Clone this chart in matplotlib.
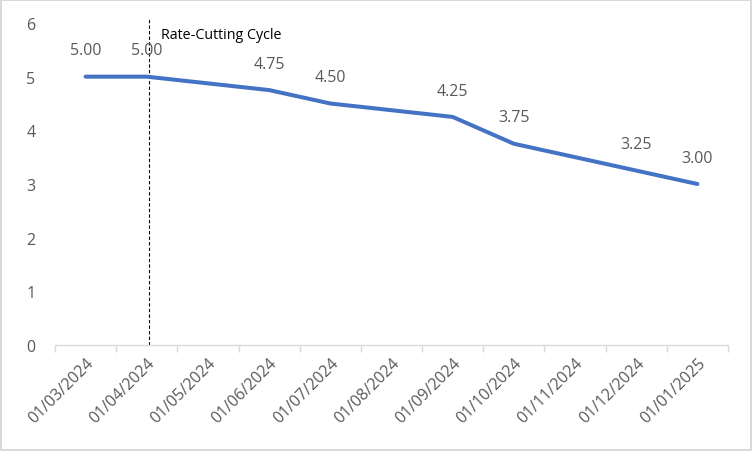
import matplotlib
matplotlib.use("Agg")
from matplotlib import pyplot as plt, ticker
import pandas as pd

# Data
dates = ["01/03/2024", "01/04/2024", "01/06/2024", "01/07/2024",
         "01/09/2024", "01/10/2024", "01/12/2024", "01/01/2025"]
rates = [5.00, 5.00, 4.75, 4.50, 4.25, 3.75, 3.25, 3.00]
month_labels = ["01/03/2024", "01/04/2024", "01/05/2024", "01/06/2024",
                "01/07/2024", "01/08/2024", "01/09/2024", "01/10/2024",
                "01/11/2024", "01/12/2024", "01/01/2025"]
cycle_start = "01/04/2024"
cycle_text = "Rate-Cutting Cycle"

plt.rcParams['font.family'] = ['Open Sans', 'DejaVu Sans']


def month_index(s):
    d = pd.to_datetime(s, format="%d/%m/%Y")
    return (d.year - 2024) * 12 + d.month - 3


xs = [month_index(d) for d in dates]

fig = plt.figure(figsize=(7.52, 4.52), dpi=100, facecolor="white",
                 edgecolor="#d9d9d9", linewidth=1.5)
ax = fig.add_axes([55 / 752, 1 - 346 / 452, (728 - 55) / 752, (346 - 24) / 452])

ax.plot(xs, rates, color="#4472C4", linewidth=2.9, solid_capstyle="round",
        solid_joinstyle="round", zorder=3)

# Data labels
for x, v in zip(xs, rates):
    ax.annotate(f"{v:.2f}", (x, v), xytext=(0, 19), textcoords="offset points",
                ha="center", va="center", fontsize=11.5, color="#595959")

# Dashed cycle marker
cx = month_index(cycle_start) + 0.03
ax.vlines(cx, 0, 6.08, colors="black", linestyles=(0, (3, 2)), linewidth=0.8,
          clip_on=False, zorder=2)
ax.text(cx + 0.2, 5.79, cycle_text, fontsize=10.3, color="black", va="center", ha="left")

# Axes styling
ax.set_xlim(-0.5, len(month_labels) - 0.5)
ax.set_ylim(0, 6)
ax.yaxis.set_major_locator(ticker.MultipleLocator(1))
ax.set_xticks(range(len(month_labels)))
ax.set_xticklabels(month_labels, rotation=45, ha="right", rotation_mode="anchor")
ax.set_xticks([i - 0.5 for i in range(len(month_labels) + 1)], minor=True)
ax.tick_params(axis="x", which="major", length=0, pad=7, labelsize=11.5, labelcolor="#595959")
ax.tick_params(axis="x", which="minor", length=5, color="#d9d9d9", width=1)
ax.tick_params(axis="y", length=0, pad=14, labelsize=11.5, labelcolor="#595959")

for side in ["top", "right", "left"]:
    ax.spines[side].set_visible(False)
ax.spines["bottom"].set_color("#d9d9d9")
ax.spines["bottom"].set_linewidth(1)

fig.savefig("out.png", dpi=100)
